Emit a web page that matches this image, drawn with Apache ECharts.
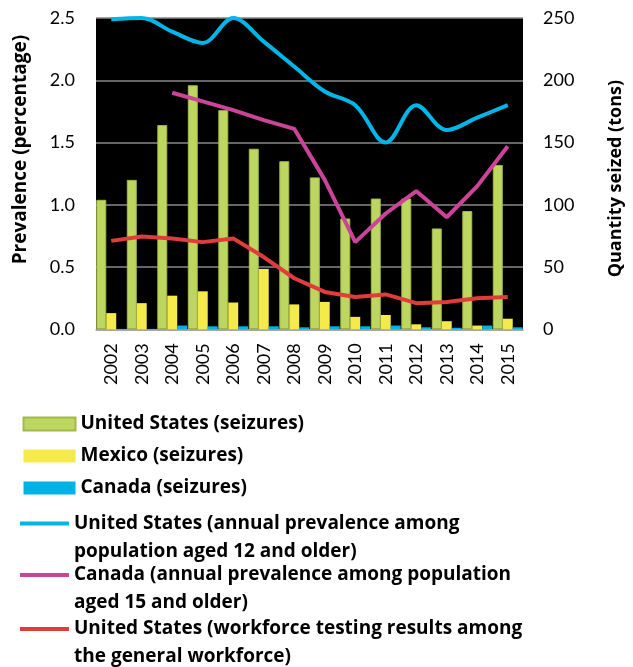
<!DOCTYPE html>
<html>
<head>
<meta charset="utf-8">
<script src="https://cdn.jsdelivr.net/npm/echarts@6/dist/echarts.min.js"></script>
<style>
  html, body { margin: 0; padding: 0; background: #fff; }
  #chart { width: 633px; height: 667px; }
</style>
</head>
<body>
<div id="chart"></div>
<script>
var years = ['2002','2003','2004','2005','2006','2007','2008','2009','2010','2011','2012','2013','2014','2015'];
var usSeizures = [104, 120, 164, 196, 176, 145, 135, 122, 89, 105, 105, 81, 95, 132];
var mexicoSeizures = [13, 21, 27, 30.5, 21.5, 48.5, 20, 22, 10, 11.5, 4, 6.5, 3, 8.5];
var canadaSeizures = [0.3, 0.3, 3, 2.4, 2.4, 2.4, 1.6, 2.4, 2.4, 3, 1.6, 1.2, 3, 1.6];
var usPrevalence = [2.49, 2.5, 2.39, 2.3, 2.5, 2.31, 2.11, 1.91, 1.8, 1.5, 1.8, 1.6, 1.7, 1.8];
var canadaPrevalence = [null, null, 1.9, 1.83, 1.76, 1.68, 1.61, 1.2, 0.7, 0.93, 1.11, 0.9, 1.15, 1.47];
var usWorkforce = [0.71, 0.745, 0.73, 0.7, 0.73, 0.58, 0.41, 0.3, 0.26, 0.28, 0.21, 0.22, 0.25, 0.26];
var leftTicks = [0, 2.5, 0.5];
var rightTicks = [0, 250, 50];

var font = 'Lato';
var boldFont = 'Open Sans';
var legendText = {fontFamily: boldFont, fontWeight: 'bold', fontSize: 19, color: '#000'};

// two-line legend entries: blank first line so the icon sits on the first text line
function lineLegend(top, name) {
    return {
        left: 20, top: top, padding: 0, itemWidth: 49, itemHeight: 4, icon: 'rect',
        textStyle: Object.assign({lineHeight: 28}, legendText),
        formatter: function (n) { return '\n' + n; },
        data: [name]
    };
}

var chart = echarts.init(document.getElementById('chart'));
chart.setOption({
    animation: false,
    grid: {
        left: 96, right: 89.5, top: 18, bottom: 337.7,
        show: true, backgroundColor: '#000', borderWidth: 0
    },
    legend: [
        {
            orient: 'vertical', left: 22.5, top: 413, padding: 0, itemGap: 10,
            itemWidth: 52, itemHeight: 13, icon: 'rect',
            textStyle: Object.assign({lineHeight: 22}, legendText),
            data: ['United States (seizures)', 'Mexico (seizures)', 'Canada (seizures)']
        },
        lineLegend(481.5, 'United States (annual prevalence among\npopulation aged 12 and older)'),
        lineLegend(533, 'Canada (annual prevalence among population\naged 15 and older)'),
        lineLegend(587, 'United States (workforce testing results among\nthe general workforce)')
    ],
    xAxis: {
        type: 'category',
        data: years,
        axisTick: {show: false},
        axisLine: {lineStyle: {color: '#a6a6a6', width: 1.5}},
        axisLabel: {rotate: 90, margin: 14, fontFamily: font, fontSize: 18, color: '#000'}
    },
    yAxis: [
        {
            type: 'value',
            min: leftTicks[0], max: leftTicks[1], interval: leftTicks[2],
            name: 'Prevalence (percentage)',
            nameLocation: 'middle', nameGap: 66, nameRotate: 90,
            nameTextStyle: {fontFamily: boldFont, fontWeight: 'bold', fontSize: 19, color: '#000', padding: [0, 0, 0, 48]},
            axisLine: {show: false},
            axisTick: {show: false},
            axisLabel: {margin: 21, fontFamily: font, fontSize: 18, color: '#000',
                formatter: function (v) { return v.toFixed(1); }},
            splitLine: {lineStyle: {color: '#898989', width: 1.5}}
        },
        {
            type: 'value',
            min: rightTicks[0], max: rightTicks[1], interval: rightTicks[2],
            name: 'Quantity seized (tons)',
            nameLocation: 'middle', nameGap: 84, nameRotate: 90,
            nameTextStyle: {fontFamily: boldFont, fontWeight: 'bold', fontSize: 18, color: '#000', padding: [0, 10, 0, 0]},
            axisLine: {show: false},
            axisTick: {show: false},
            axisLabel: {margin: 20, fontFamily: font, fontSize: 18, color: '#000'},
            splitLine: {show: false}
        }
    ],
    series: [
        {
            name: 'United States (seizures)', type: 'bar', yAxisIndex: 1,
            data: usSeizures, barGap: 0, barCategoryGap: '2%',
            itemStyle: {color: '#bdd65f', borderColor: '#a3b84c', borderWidth: 1}
        },
        {
            name: 'Mexico (seizures)', type: 'bar', yAxisIndex: 1,
            data: mexicoSeizures, barGap: 0, barCategoryGap: '2%',
            itemStyle: {color: '#f4ea4c'}
        },
        {
            name: 'Canada (seizures)', type: 'bar', yAxisIndex: 1,
            data: canadaSeizures, barGap: 0, barCategoryGap: '2%',
            itemStyle: {color: '#00b2e6'}
        },
        {
            name: 'United States (annual prevalence among\npopulation aged 12 and older)',
            type: 'line', yAxisIndex: 0, data: usPrevalence, smooth: 0.35,
            symbol: 'none', lineStyle: {color: '#00b5e8', width: 4}, itemStyle: {color: '#00b5e8'}
        },
        {
            name: 'Canada (annual prevalence among population\naged 15 and older)',
            type: 'line', yAxisIndex: 0, data: canadaPrevalence,
            symbol: 'none', lineStyle: {color: '#cc4499', width: 4}, itemStyle: {color: '#cc4499'}
        },
        {
            name: 'United States (workforce testing results among\nthe general workforce)',
            type: 'line', yAxisIndex: 0, data: usWorkforce,
            symbol: 'none', lineStyle: {color: '#e03c3c', width: 4}, itemStyle: {color: '#e03c3c'}
        }
    ]
});
</script>
</body>
</html>
